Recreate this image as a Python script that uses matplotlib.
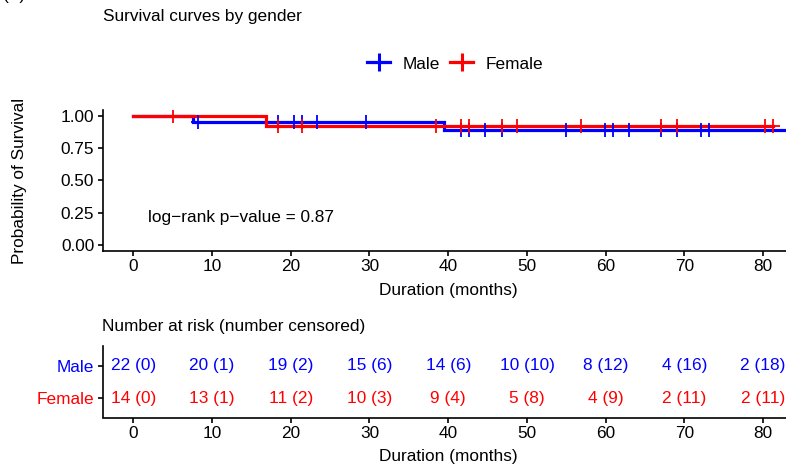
import numpy as np
import matplotlib
matplotlib.use('Agg')
import matplotlib.pyplot as plt
from matplotlib.lines import Line2D

plt.rcParams['font.family'] = ['Liberation Sans', 'DejaVu Sans']
FS = 12.4

# ---- data (months; event 1 = death, 0 = censored) ----
groups = ['Male', 'Female']
group_colors = ['#0000FF', '#FF0000']
male_time = [7.6, 8.2, 18.4, 20.4, 21.4, 23.3, 29.5, 39.5, 41.65, 42.7, 44.7, 46.8,
             54.9, 59.9, 60.95, 63.0, 67.05, 69.1, 72.1, 73.1, 84.0, 85.0]
male_event = [1, 0, 0, 0, 0, 0, 0, 1, 0, 0, 0, 0,
              0, 0, 0, 0, 0, 0, 0, 0, 0, 0]
female_time = [5.1, 16.9, 18.4, 21.4, 38.5, 41.65, 42.7, 46.8, 48.7, 56.9, 67.05,
               69.1, 80.25, 81.2]
female_event = [0, 1, 0, 0, 0, 0, 0, 0, 0, 0, 0, 0, 0, 0]
risk_times = [0, 10, 20, 30, 40, 50, 60, 70, 80]
y_ticks = [0.00, 0.25, 0.50, 0.75, 1.00]
pvalue_text = 'log\u2212rank p\u2212value = 0.87'

data = {'Male': (np.array(male_time), np.array(male_event)),
        'Female': (np.array(female_time), np.array(female_event))}


def km(t, e):
    xs, ys, s = [0.0], [1.0], 1.0
    for u in np.unique(t[e == 1]):
        n = np.sum(t >= u)
        d = np.sum((t == u) & (e == 1))
        s *= 1 - d / n
        xs.append(u)
        ys.append(s)
    xs.append(t.max())
    ys.append(s)
    return np.array(xs), np.array(ys)


def surv_at(xs, ys, q):
    i = np.searchsorted(xs, q, side='right') - 1
    return ys[i]


W, H = 786, 465
fig = plt.figure(figsize=(W / 100, H / 100), dpi=100)

def fx(px):
    return px / W

def fy(py):
    return 1 - py / H

XL = (-3.91, 82.9)
label_x = (448 - 102.5) / (786 - 102.5)
ax = fig.add_axes([fx(102.5), fy(251), fx(786) - fx(102.5), fy(110) - fy(251)])

for g, c in zip(groups, group_colors):
    t, e = data[g]
    xs, ys = km(t, e)
    ax.step(xs, ys, where='post', color=c, lw=2.3, solid_joinstyle='miter', zorder=3)
for g, c in zip(groups, group_colors):
    t, e = data[g]
    xs, ys = km(t, e)
    ct = t[e == 0]
    cy = [surv_at(xs, ys, q) for q in ct]
    ax.plot(ct, cy, ls='none', marker='+', ms=9.5, mew=1.3, color=c, zorder=4)

ax.set_xlim(*XL)
ax.set_ylim(-0.05, 1.05)
ax.set_xticks(risk_times)
ax.set_yticks(y_ticks)
ax.set_yticklabels([f'{v:.2f}' for v in y_ticks])
for s in ['top', 'right']:
    ax.spines[s].set_visible(False)
for s in ['left', 'bottom']:
    ax.spines[s].set_linewidth(1.2)
ax.tick_params(length=3.5, width=1.2, labelsize=FS, pad=2.5, colors='black')
ax.set_xlabel('Duration (months)', fontsize=FS, labelpad=6.5)
ax.xaxis.label.set_x(label_x)
ax.text(1.87, 0.21, pvalue_text, fontsize=FS, ha='left', va='center')

fig.text(fx(20), fy(180.5), 'Probability of Survival', rotation=90, fontsize=FS,
         ha='center', va='center')
fig.text(fx(103), fy(17), 'Survival curves by gender', fontsize=FS, ha='left', va='center')
fig.text(fx(3), 1.0, '(A)', fontsize=FS, ha='left', va='baseline')

handles = [Line2D([0], [0], color=c, lw=2.3, marker='+', ms=13, mew=2.2) for c in group_colors]
fig.legend(handles, groups, loc='center', bbox_to_anchor=(fx(455), fy(64)), ncol=2,
           frameon=False, fontsize=FS, handlelength=1.35, handletextpad=0.7,
           columnspacing=0.6, borderpad=0, borderaxespad=0)

# ---- risk table ----
rx = fig.add_axes([fx(102.5), fy(417.5), fx(786) - fx(102.5), fy(346.5) - fy(417.5)])
rx.set_xlim(*XL)
rx.set_ylim(0.4, 2.6)
row_y = {'Male': 2, 'Female': 1}
for g, c in zip(groups, group_colors):
    t, e = data[g]
    for q in risk_times:
        n = int(np.sum(t >= q))
        cen = int(np.sum((t < q) & (e == 0)))
        rx.text(q, row_y[g], f'{n} ({cen})', color=c, fontsize=FS, ha='center', va='center')
rx.set_xticks(risk_times)
rx.set_yticks([row_y[g] for g in groups])
rx.set_yticklabels(groups)
for lbl, c in zip(rx.get_yticklabels(), group_colors):
    lbl.set_color(c)
for s in ['top', 'right']:
    rx.spines[s].set_visible(False)
for s in ['left', 'bottom']:
    rx.spines[s].set_linewidth(1.2)
rx.tick_params(length=3.5, width=1.2, labelsize=FS, pad=2.5)
rx.set_xlabel('Duration (months)', fontsize=FS, labelpad=6)
rx.xaxis.label.set_x(label_x)
fig.text(fx(102), fy(326), 'Number at risk (number censored)', fontsize=FS,
         ha='left', va='center')

fig.savefig('out.png', dpi=100)
